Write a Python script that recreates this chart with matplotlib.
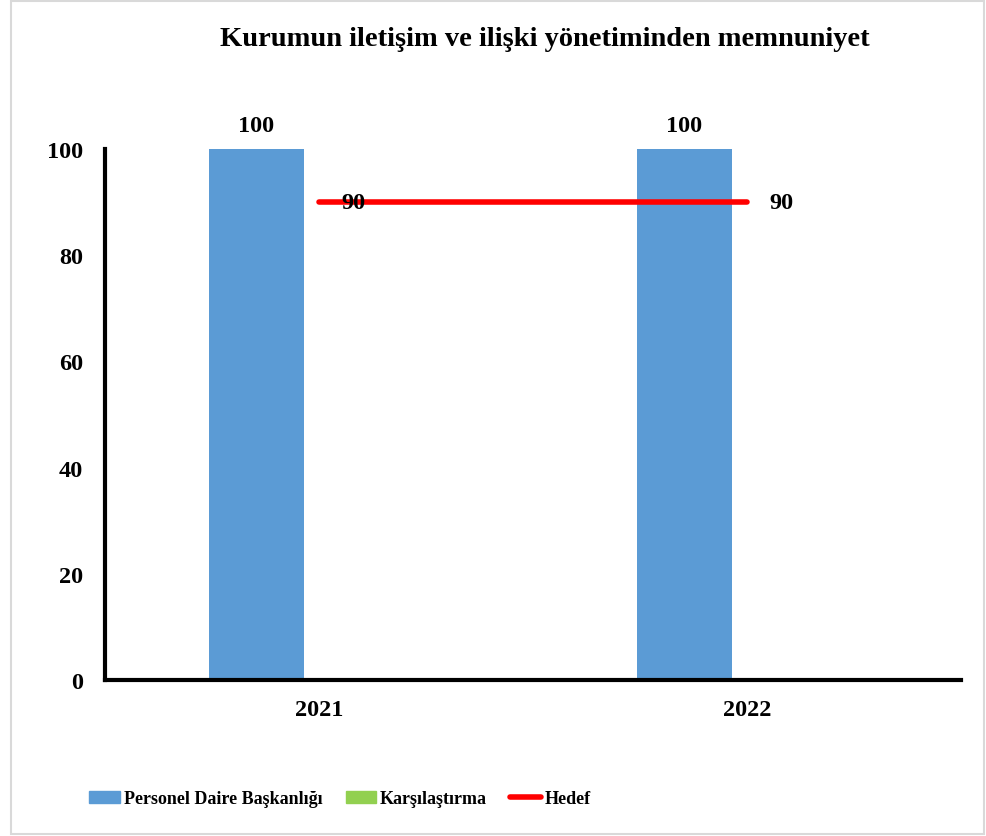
import matplotlib
matplotlib.use("Agg")
import matplotlib.pyplot as plt
import numpy as np
from matplotlib.patches import Rectangle
from matplotlib.lines import Line2D

years = ["2021", "2022"]
personel = [100, 100]
karsilastirma = [0, 0]
hedef = [90, 90]

plt.rcParams['font.family'] = ['Liberation Serif', 'DejaVu Serif']
plt.rcParams['font.weight'] = 'bold'

fig = plt.figure(figsize=(9.86, 8.37), dpi=100)
ax = fig.add_axes([105 / 986, 1 - 681 / 837, (961 - 105) / 986, (681 - 150) / 837])

x = np.arange(len(years))
w = 0.222
off = 0.147
blue = "#5b9bd5"
green = "#92d050"

ax.bar(x - off, personel, w, color=blue, label="Personel Daire Başkanlığı")
ax.bar(x + off, karsilastirma, w, color=green, label="Karşılaştırma")
ax.plot(x, hedef, color="red", lw=4, solid_capstyle="round", label="Hedef")

# value labels
for xi, v in zip(x - off, personel):
    ax.annotate(str(v), (xi, v), xytext=(0, 17), textcoords="offset points",
                ha="center", va="center", fontsize=17.5, fontweight="bold")
for xi, v in zip(x, hedef):
    ax.annotate(str(v), (xi, v), xytext=(25, 0), textcoords="offset points",
                ha="center", va="center", fontsize=17.5, fontweight="bold")

ax.set_xlim(-0.5, 1.5)
ax.set_ylim(0, 100)
ax.set_yticks([0, 20, 40, 60, 80, 100])
ax.set_xticks(x)
ax.set_xticklabels(years)
ax.tick_params(axis="both", length=0, labelsize=17.5)
ax.tick_params(axis="y", pad=16)
ax.tick_params(axis="x", pad=14)
for lab in ax.get_xticklabels() + ax.get_yticklabels():
    lab.set_fontweight("bold")
for s in ["top", "right"]:
    ax.spines[s].set_visible(False)
for s in ["left", "bottom"]:
    ax.spines[s].set_linewidth(3)
    ax.spines[s].set_color("black")

fig.text(545 / 986, 1 - 40 / 837, "Kurumun iletişim ve ilişki yönetiminden memnuniyet",
         ha="center", va="center", fontsize=20.5, fontweight="bold")

handles = [Rectangle((0, 0), 1, 1, color=blue), Rectangle((0, 0), 1, 1, color=green),
           Line2D([0], [0], color="red", lw=4, solid_capstyle="round")]
fig.legend(handles, ["Personel Daire Başkanlığı", "Karşılaştırma", "Hedef"],
           loc="center", bbox_to_anchor=(340 / 986, 1 - 800 / 837), ncol=3, frameon=False,
           prop={"size": 13, "weight": "bold"}, handlelength=1.7, handleheight=0.6,
           handletextpad=0.2, columnspacing=1.3)

# thin gray frame around the figure
fig.add_artist(Rectangle((11 / 986, 2 / 837), 1 - 13 / 986, 1 - 4 / 837, transform=fig.transFigure,
                         fill=False, edgecolor="#d9d9d9", lw=1.5))

fig.savefig("out.png", dpi=100)
